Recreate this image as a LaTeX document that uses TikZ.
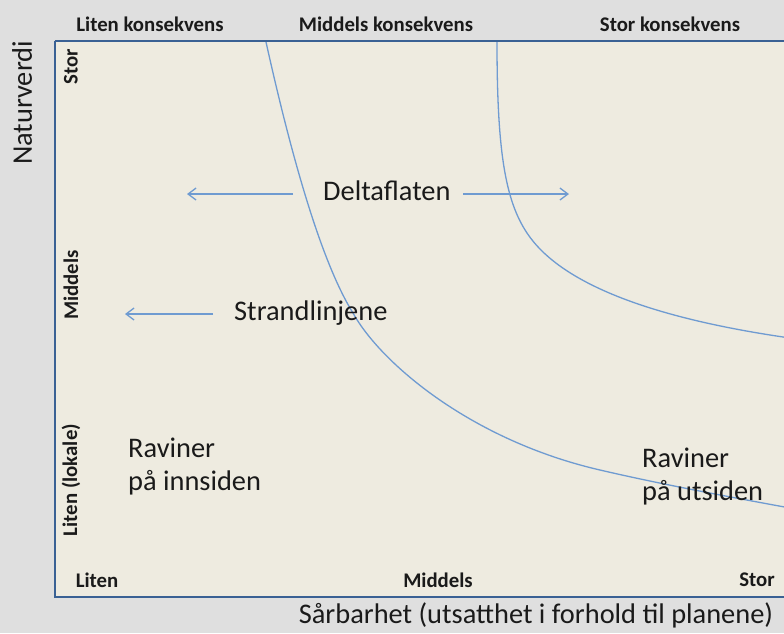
\documentclass[tikz,border=0pt]{standalone}
\usepackage{fontspec}
\setmainfont{Carlito}
\usetikzlibrary{arrows.meta}
\definecolor{outerbg}{HTML}{DFDFDF}
\definecolor{boxbg}{HTML}{EEEBE0}
\definecolor{boxline}{HTML}{3A6194}
\definecolor{curve}{HTML}{6F9BD1}
\definecolor{txt}{HTML}{1A1A1A}
\tikzset{
  small/.style={font=\bfseries\fontsize{20.8}{24}\selectfont, text=txt, inner sep=0pt},
  big/.style={font=\fontsize{28.4}{33}\selectfont, text=txt, inner sep=0pt},
  bigml/.style={big, align=left, anchor=north west},
  curveline/.style={draw=curve, line width=1.3pt},
  arr/.style={draw=curve, line width=1.3pt, -{Straight Barb[length=8pt,width=12pt,line width=1.3pt]}},
}
\begin{document}
\begin{tikzpicture}[x=1pt,y=-1pt]
\useasboundingbox (0,0) rectangle (784,633);
\fill[outerbg] (0,0) rectangle (784,633);
% shadow
\fill[black!12] (57,43) rectangle (790,600);
\fill[boxbg] (55,41) rectangle (790,597);
% curves
\draw[curveline] (266,42) .. controls (290,150) and (320,260) .. (353,313)
  .. controls (380,362) and (470,440) .. (600,470)
  .. controls (660,484) and (730,497) .. (790,508);
\draw[curveline] (497,42) .. controls (497,150) and (505,200) .. (527,233)
  .. controls (560,283) and (650,318) .. (790,338);
\draw[boxline, line width=2.4pt] (55,41) -- (792,41);
\draw[boxline, line width=2.4pt] (55,41) -- (55,597) -- (792,597);
% top labels
\node[small] (tl) at (150,24) {Liten konsekvens};
\node[small] (tm) at (386,24) {Middels konsekvens};
\node[small] (tr) at (670,24) {Stor konsekvens};
% left labels
\node[big, rotate=90] (yt) at (22,103) {Naturverdi};
\node[small, rotate=90] (ls) at (71,67) {Stor};
\node[small, rotate=90] (lm) at (71,285) {Middels};
\node[small, rotate=90] (ll) at (71,480) {Liten (lokale)};
% bottom labels
\node[small] (bl) at (97,580) {Liten};
\node[small] (bm) at (438,580) {Middels};
\node[small] (br) at (757,580) {Stor};
\node[big] (xt) at (536,615) {Sårbarhet (utsatthet i forhold til planene)};
% inner labels
\node[big, anchor=base west] (delta) at (323,200) {Deltaflaten};
\node[big, anchor=base west] (strand) at (234,320) {Strandlinjene};
\node[bigml] (inn) at (128,438) {Raviner\\på innsiden};
\node[bigml] (ut) at (642,448) {Raviner\\på utsiden};
% arrows
\coordinate (dla) at (293,194);
\coordinate (dlb) at (187,194);
\coordinate (dra) at (463,194);
\coordinate (drb) at (569,194);
\coordinate (sa) at (213,314);
\coordinate (sb) at (125,314);
\draw[arr] (dla) -- (dlb);
\draw[arr] (dra) -- (drb);
\draw[arr] (sa) -- (sb);
\end{tikzpicture}
\end{document}
